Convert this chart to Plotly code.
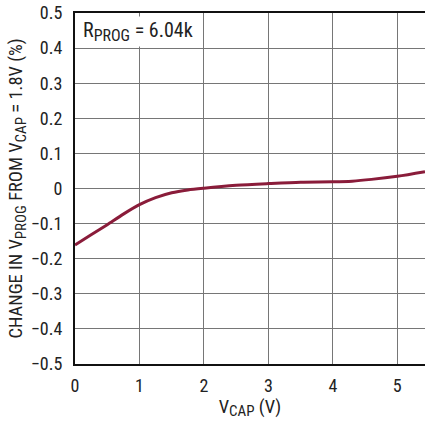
import plotly.graph_objects as go

# V_CAP sweep (V) and change in V_PROG relative to V_CAP = 1.8V (%)
vcap = [0, 0.25, 0.5, 0.75, 1.0, 1.25, 1.5, 1.75, 2.0, 2.5, 3.0, 3.5, 4.0, 4.3, 4.6, 5.0, 5.43]
delta_vprog = [-0.161, -0.132, -0.103, -0.073, -0.046, -0.026, -0.012, -0.004, 0.001,
               0.009, 0.014, 0.018, 0.019, 0.021, 0.026, 0.035, 0.048]

x_ticks = [0, 1, 2, 3, 4, 5]
x_tick_text = ["0", "1", "2", "3", "4", "5"]
y_ticks = [0.5, 0.4, 0.3, 0.2, 0.1, 0, -0.1, -0.2, -0.3, -0.4, -0.5]
y_tick_text = ["0.5", "0.4", "0.3", "0.2", "0.1", "0",
               "\u22120.1", "\u22120.2", "\u22120.3", "\u22120.4", "\u22120.5"]

FONT = "Roboto Condensed, Liberation Sans Narrow, sans-serif"


def sub(txt, px):
    # subscript a little larger than plotly's default 70%
    return f"<sub><span style='font-size:{px}px'>{txt}</span></sub>"


fig = go.Figure()
fig.add_trace(go.Scatter(
    x=vcap, y=delta_vprog, mode="lines",
    line=dict(color="#8a1c3a", width=3, shape="spline", smoothing=0.8),
    showlegend=False, hoverinfo="skip",
))

fig.update_layout(
    width=425, height=425,
    margin=dict(l=75, r=0, t=13, b=61),
    paper_bgcolor="white", plot_bgcolor="white",
    font=dict(family=FONT, size=18, color="#222"),
    xaxis=dict(
        range=[0, 5.43], tickvals=x_ticks, ticktext=x_tick_text,
        showgrid=True, gridcolor="#767676", gridwidth=1,
        showline=True, linecolor="#111", linewidth=2, mirror=True,
        ticks="", zeroline=False, ticklabelstandoff=4,
        tickfont=dict(size=18),
        title=dict(text="V" + sub("CAP", 15) + " (V)", font=dict(size=18.5), standoff=1),
    ),
    yaxis=dict(
        range=[-0.5, 0.5], tickvals=y_ticks, ticktext=y_tick_text,
        showgrid=True, gridcolor="#767676", gridwidth=1,
        showline=True, linecolor="#111", linewidth=2, mirror=False,
        ticks="", zeroline=False, ticklabelstandoff=7,
        tickfont=dict(size=18),
        title=dict(text="CHANGE IN V" + sub("PROG", 15) + " FROM V" + sub("CAP", 15)
                   + " = 1.8V (%)",
                   font=dict(size=18.5), standoff=3),
    ),
    annotations=[dict(
        x=0, y=1, xref="paper", yref="paper", xanchor="left", yanchor="top",
        xshift=6, yshift=-3,
        text="R" + sub("PROG", 16) + " = 6.04k", showarrow=False,
        font=dict(size=20, color="#222"), bgcolor="white", borderpad=1,
    )],
)

fig.write_html("out.html")
